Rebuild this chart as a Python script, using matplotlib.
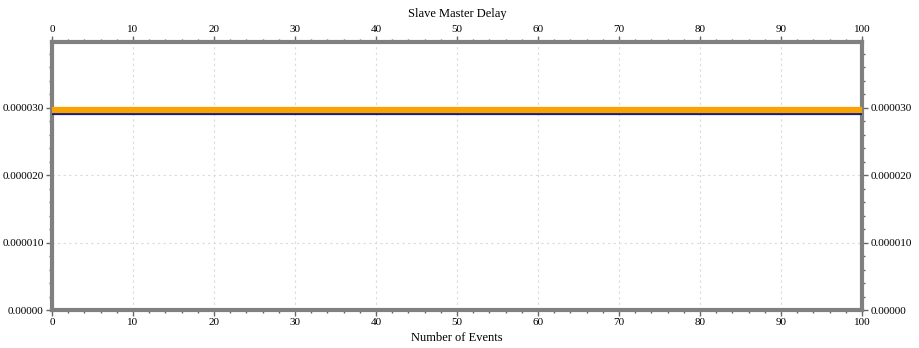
import numpy as np
import matplotlib.pyplot as plt
from matplotlib.ticker import MultipleLocator, FuncFormatter

# --- data ---
events = list(range(0, 101))
delay_a = [2.97e-5] * len(events)   # orange series
delay_b = [2.91e-5] * len(events)   # navy series

plt.rcParams["font.family"] = ["Liberation Serif", "DejaVu Serif"]
plt.rcParams["font.size"] = 8

fig = plt.figure(figsize=(9.19, 3.48), dpi=100)
ax = fig.add_axes([0.0566, 0.109, 0.8814, 0.770])

ax.plot(events, delay_b, color="#1a1a80", lw=1.6, zorder=3)
ax.plot(events, delay_a, color="#f8a400", lw=4.5, solid_capstyle="round", zorder=4)

ax.set_xlim(0, 100)
ax.set_ylim(0, 3.97e-5)

ax.xaxis.set_major_locator(MultipleLocator(10))
ax.xaxis.set_minor_locator(MultipleLocator(2))
ax.yaxis.set_major_locator(MultipleLocator(1e-5))
ax.yaxis.set_minor_locator(MultipleLocator(2e-6))

def yfmt(v, pos):
    if abs(v) < 1e-12:
        return "0.00000"
    return f"{v:.6f}"

ax.yaxis.set_major_formatter(FuncFormatter(yfmt))

ax.tick_params(which="both", top=True, right=True, labeltop=True, labelright=True,
               direction="out", color="#666666", labelsize=8, pad=2)
ax.tick_params(which="major", length=4, width=1)
ax.tick_params(which="minor", length=2, width=1)

for s in ax.spines.values():
    s.set_color("#808080")
    s.set_linewidth(3)

ax.grid(True, which="major", color="#dadada", linestyle=(0, (2, 3)), lw=0.8)

ax.set_xlabel("Number of Events", fontsize=9, labelpad=3)
ax.set_title("Slave Master Delay", fontsize=9, pad=18)

fig.savefig("out.png", dpi=100)
